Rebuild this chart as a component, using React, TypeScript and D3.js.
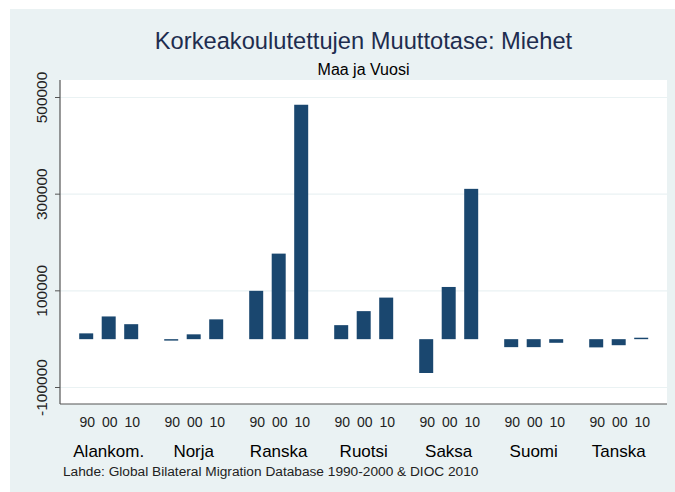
import React from 'react';
import * as d3 from 'd3';

// Korkeakoulutettujen muuttotase, miehet (maa x vuosi)
const countries = ['Alankom.', 'Norja', 'Ranska', 'Ruotsi', 'Saksa', 'Suomi', 'Tanska'];
const years = ['90', '00', '10'];
const values: number[][] = [
  [12000, 47000, 31000],
  [-3000, 10000, 41000],
  [100000, 177000, 485000],
  [29000, 58000, 86000],
  [-70000, 108000, 311000],
  [-16500, -16500, -7500],
  [-17000, -12500, 3000],
];
const yTicks = [-100000, 100000, 300000, 500000];

const W = 675;
const H = 492;
const plot = { left: 60, right: 667, top: 80, bottom: 404 };
const barColor = '#1a476f';
const font = 'Liberation Sans, Arial, sans-serif';

const App = () => {
  const y = d3.scaleLinear().domain([-100000, 500000]).range([387.5, 97.5]);
  const x = d3.scaleBand<string>().domain(countries).range([66.2, 661.2]).padding(0);
  const xi = d3.scaleBand<string>().domain(years).range([0, x.bandwidth()])
    .paddingInner(0.378).paddingOuter(0.578);

  return (
    <svg width={W} height={H} style={{ position: 'absolute', left: 0, top: 0 }} fontFamily={font}>
      <rect x={0} y={0} width={W} height={H} fill="#fff" />
      <rect x={10} y={9} width={W - 10} height={H - 9} fill="#eaf2f3" />
      <rect x={plot.left} y={plot.top} width={plot.right - plot.left} height={plot.bottom - plot.top} fill="#fff" />

      {/* grid */}
      {yTicks.map(t => (
        <line key={t} x1={plot.left} x2={plot.right} y1={y(t)} y2={y(t)} stroke="#eaf2f3" strokeWidth={1.2} />
      ))}

      {/* bars */}
      {countries.map((c, i) => (
        <g key={c} transform={`translate(${x(c)},0)`}>
          {years.map((yr, j) => {
            const v = values[i][j];
            return (
              <g key={yr}>
                <rect x={xi(yr)} width={xi.bandwidth()}
                  y={y(Math.max(0, v))} height={Math.abs(y(v) - y(0))} fill={barColor} />
                <text x={(xi(yr) ?? 0) + xi.bandwidth() / 2 + 1} y={426.7} textAnchor="middle" fontSize={14} fill="#222">
                  {yr}
                </text>
              </g>
            );
          })}
          <text x={x.bandwidth() / 2} y={456.7} textAnchor="middle" fontSize={17} fill="#000">
            {c}
          </text>
        </g>
      ))}

      {/* axes */}
      <line x1={plot.left} x2={plot.left} y1={plot.top} y2={plot.bottom} stroke="#555" strokeWidth={1.2} />
      <line x1={plot.left} x2={plot.right} y1={plot.bottom} y2={plot.bottom} stroke="#555" strokeWidth={1.2} />
      {yTicks.map(t => (
        <g key={t}>
          <line x1={plot.left - 5} x2={plot.left} y1={y(t)} y2={y(t)} stroke="#555" />
          <text transform={`translate(46.5,${y(t)}) rotate(-90)`} textAnchor="middle" fontSize={15.5} fill="#222">
            {t}
          </text>
        </g>
      ))}

      {/* titles */}
      <text x={(plot.left + plot.right) / 2} y={49} textAnchor="middle" fontSize={23.7} fill="#1e2d4f">
        Korkeakoulutettujen Muuttotase: Miehet
      </text>
      <text x={(plot.left + plot.right) / 2} y={75} textAnchor="middle" fontSize={16} fill="#000">
        Maa ja Vuosi
      </text>
      <text x={63} y={475.5} fontSize={13.7} fill="#222">
        Lahde: Global Bilateral Migration Database 1990-2000 &amp; DIOC 2010
      </text>
    </svg>
  );
};

export default App;
